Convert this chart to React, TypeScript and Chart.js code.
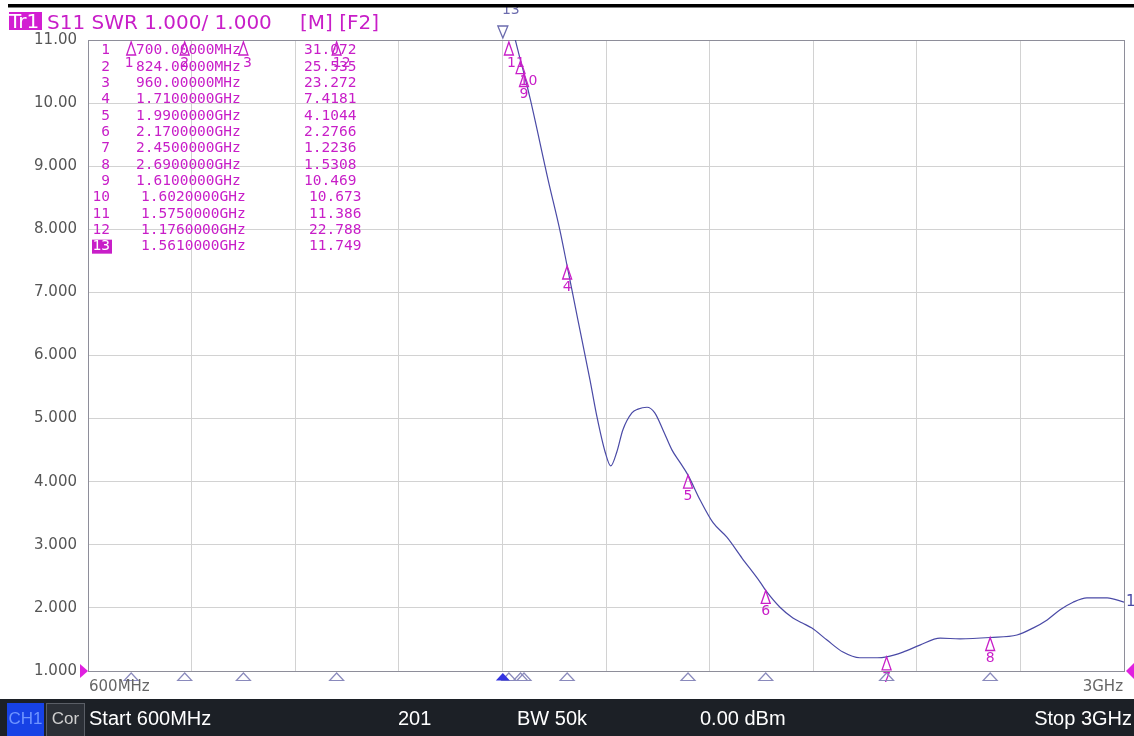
import React, { useEffect, useRef } from "react";
import { Chart, registerables } from "chart.js";

Chart.register(...registerables);

// ---- Trace data (frequency in MHz, SWR) ----
const freqMHz = [
  600, 700, 824, 960, 1176, 1300, 1450, 1530, 1561, 1575, 1590, 1602, 1610, 1625,
  1666, 1693, 1710, 1735, 1763, 1779, 1798, 1811, 1825, 1839, 1860, 1874, 1895,
  1913, 1932, 1953, 1971, 1990, 2018, 2048, 2080, 2115, 2157, 2170, 2203, 2233,
  2255, 2277, 2312, 2349, 2388, 2428, 2450, 2488, 2527, 2574, 2620, 2690, 2752,
  2789, 2822, 2852, 2882, 2914, 2961, 3000,
];
const swrValues = [
  33, 31.072, 25.535, 23.272, 22.788, 21, 16.5, 13.2, 11.749, 11.386, 11.0, 10.673,
  10.469, 10.05, 8.78, 7.99, 7.418, 6.56, 5.61, 5.03, 4.47, 4.25, 4.47, 4.82, 5.09,
  5.15, 5.18, 5.09, 4.82, 4.5, 4.31, 4.104, 3.71, 3.35, 3.12, 2.79, 2.41, 2.277,
  2.01, 1.84, 1.76, 1.68, 1.49, 1.3, 1.21, 1.21, 1.224, 1.3, 1.41, 1.52, 1.51,
  1.531, 1.57, 1.68, 1.81, 1.97, 2.09, 2.16, 2.16, 2.09,
];

// ---- Markers ----
const markerNums = [1, 2, 3, 4, 5, 6, 7, 8, 9, 10, 11, 12, 13];
const markerFreqMHz = [700, 824, 960, 1710, 1990, 2170, 2450, 2690, 1610, 1602, 1575, 1176, 1561];
const markerFreqText = [
  "700.00000MHz", "824.00000MHz", "960.00000MHz", "1.7100000GHz", "1.9900000GHz",
  "2.1700000GHz", "2.4500000GHz", "2.6900000GHz", "1.6100000GHz", "1.6020000GHz",
  "1.5750000GHz", "1.1760000GHz", "1.5610000GHz",
];
const markerValueText = [
  "31.072", "25.535", "23.272", "7.4181", "4.1044", "2.2766", "1.2236", "1.5308",
  "10.469", "10.673", "11.386", "22.788", "11.749",
];
const markerValues = [31.072, 25.535, 23.272, 7.4181, 4.1044, 2.2766, 1.2236, 1.5308, 10.469, 10.673, 11.386, 22.788, 11.749];
const activeMarker = 13;

// ---- Axis ----
const yMin = 1;
const yMax = 11;
const xStartMHz = 600;
const xStopMHz = 3000;
const xStepMHz = 240;

// ---- Text ----
const titleTag = "Tr1";
const titleText = "S11 SWR 1.000/ 1.000";
const titleFlags = "[M] [F2]";
const startLabel = "600MHz";
const stopLabel = "3GHz";
const statusTexts = ["Start 600MHz", "201", "BW 50k", "0.00 dBm", "Stop 3GHz"];

// label offsets for marker numbers (style only)
const labelDx: Record<number, number> = { 1: -2, 3: 4, 10: 8, 11: 7, 12: 5 };

const MAGENTA = "#c81ec8";
const TRACE = "#4a4aa6";

export default function App() {
  const ref = useRef<HTMLCanvasElement | null>(null);

  useEffect(() => {
    const canvas = ref.current;
    if (!canvas) return;

    const decor = {
      id: "vnaDecor",
      beforeDraw(chart: any) {
        const ctx = chart.ctx;
        ctx.save();
        ctx.fillStyle = "#ffffff";
        ctx.fillRect(0, 0, chart.width, chart.height);
        ctx.restore();
      },
      beforeDatasetsDraw(chart: any) {
        const ctx = chart.ctx;
        const a = chart.chartArea;
        ctx.save();
        ctx.strokeStyle = "#8e8e9a";
        ctx.lineWidth = 1;
        ctx.strokeRect(Math.round(a.left) + 0.5, Math.round(a.top) + 0.5, Math.round(a.right - a.left), Math.round(a.bottom - a.top));
        ctx.restore();
      },
      afterDraw(chart: any) {
        const ctx = chart.ctx;
        const a = chart.chartArea;
        const xs = chart.scales.x;
        const ys = chart.scales.y;
        ctx.save();

        // ---- marker table ----
        ctx.font = "14.5px 'DejaVu Sans Mono'";
        ctx.textBaseline = "middle";
        markerNums.forEach((n, i) => {
          const y = 50.7 + 16.33 * i;
          const shift = n >= 10 ? 5 : 0;
          if (n === activeMarker) {
            ctx.fillStyle = MAGENTA;
            ctx.fillRect(92, y - 7, 20, 14);
            ctx.fillStyle = "#ffffff";
          } else {
            ctx.fillStyle = MAGENTA;
          }
          ctx.textAlign = "right";
          ctx.fillText(String(n), 110, y);
          ctx.fillStyle = MAGENTA;
          ctx.textAlign = "left";
          ctx.fillText(markerFreqText[i], 136 + shift, y);
          ctx.fillText(markerValueText[i], 304 + shift, y);
        });

        // ---- markers on trace ----
        ctx.font = "14px 'DejaVu Sans'";
        ctx.textAlign = "center";
        ctx.textBaseline = "middle";
        markerNums.forEach((n, i) => {
          const x = xs.getPixelForValue(markerFreqMHz[i]);
          const v = markerValues[i];
          if (n === activeMarker) {
            ctx.strokeStyle = "#6c6cae";
            ctx.lineWidth = 1.3;
            ctx.beginPath();
            ctx.moveTo(x, a.top - 2);
            ctx.lineTo(x - 5, a.top - 14);
            ctx.lineTo(x + 5, a.top - 14);
            ctx.closePath();
            ctx.stroke();
            ctx.fillStyle = "#6c6cae";
            ctx.fillText(String(n), x + 8, 10);
            return;
          }
          const tipY = v > yMax ? a.top + 2 : ys.getPixelForValue(v);
          ctx.strokeStyle = MAGENTA;
          ctx.lineWidth = 1.3;
          ctx.beginPath();
          ctx.moveTo(x, tipY);
          ctx.lineTo(x - 4.5, tipY + 13);
          ctx.lineTo(x + 4.5, tipY + 13);
          ctx.closePath();
          ctx.stroke();
          ctx.fillStyle = MAGENTA;
          ctx.fillText(String(n), x + (labelDx[n] || 0), tipY + 21);
        });

        // ---- bottom marker position indicators ----
        markerNums.forEach((n, i) => {
          const x = xs.getPixelForValue(markerFreqMHz[i]);
          const y0 = a.bottom + 2;
          ctx.beginPath();
          ctx.moveTo(x, y0);
          ctx.lineTo(x - 7, y0 + 7.5);
          ctx.lineTo(x + 7, y0 + 7.5);
          ctx.closePath();
          if (n === activeMarker) {
            ctx.fillStyle = "#3333e0";
            ctx.fill();
          } else {
            ctx.strokeStyle = "#8a8abc";
            ctx.lineWidth = 1.2;
            ctx.stroke();
          }
        });

        // ---- reference level arrows ----
        ctx.fillStyle = "#e020e0";
        ctx.beginPath();
        ctx.moveTo(a.left - 8, a.bottom - 7);
        ctx.lineTo(a.left, a.bottom);
        ctx.lineTo(a.left - 8, a.bottom + 7);
        ctx.closePath();
        ctx.fill();
        ctx.beginPath();
        ctx.moveTo(1134, a.bottom - 8);
        ctx.lineTo(a.right + 2, a.bottom);
        ctx.lineTo(1134, a.bottom + 8);
        ctx.closePath();
        ctx.fill();

        // ---- trace label ----
        ctx.fillStyle = TRACE;
        ctx.font = "15px 'DejaVu Sans'";
        ctx.textAlign = "left";
        ctx.fillText("1", a.right + 2, ys.getPixelForValue(swrValues[swrValues.length - 1]));

        // ---- start / stop labels ----
        ctx.fillStyle = "#666666";
        ctx.font = "15px 'DejaVu Sans'";
        ctx.textAlign = "left";
        ctx.fillText(startLabel, a.left + 1, 687);
        ctx.textAlign = "right";
        ctx.fillText(stopLabel, a.right - 1, 687);

        // ---- top black line ----
        ctx.fillStyle = "#000000";
        ctx.fillRect(8, 4, 1126, 3.5);

        // ---- title ----
        ctx.font = "20px 'DejaVu Sans'";
        ctx.textBaseline = "alphabetic";
        ctx.textAlign = "left";
        ctx.fillStyle = "#d21ed2";
        ctx.fillRect(9, 12, 33, 18);
        ctx.fillStyle = "#ffffff";
        ctx.fillText(titleTag, 9, 28);
        ctx.fillStyle = MAGENTA;
        ctx.fillText(titleText, 47, 29);
        ctx.fillText(titleFlags, 300, 29);

        // ---- status bar ----
        ctx.fillStyle = "#1c2026";
        ctx.fillRect(0, 699, 1134, 37);
        ctx.fillStyle = "#1742e6";
        ctx.fillRect(7, 703, 37, 33);
        ctx.fillStyle = "#2b2f36";
        ctx.fillRect(46, 703, 39, 33);
        ctx.strokeStyle = "#5a5e66";
        ctx.lineWidth = 1;
        ctx.strokeRect(46.5, 703.5, 38, 33);
        ctx.textBaseline = "middle";
        ctx.font = "17px 'Liberation Sans'";
        ctx.fillStyle = "#6f95ff";
        ctx.textAlign = "center";
        ctx.fillText("CH1", 25.5, 719);
        ctx.fillStyle = "#cfcfcf";
        ctx.fillText("Cor", 65.5, 719);
        ctx.font = "20px 'Liberation Sans'";
        ctx.fillStyle = "#ffffff";
        ctx.textAlign = "left";
        ctx.fillText(statusTexts[0], 89, 719);
        ctx.fillText(statusTexts[1], 398, 719);
        ctx.fillText(statusTexts[2], 517, 719);
        ctx.fillText(statusTexts[3], 700, 719);
        ctx.textAlign = "right";
        ctx.fillText(statusTexts[4], 1132, 719);

        ctx.restore();
      },
    };

    const chart = new Chart(canvas, {
      type: "line",
      data: {
        datasets: [
          {
            data: freqMHz.map((f, i) => ({ x: f, y: swrValues[i] })),
            borderColor: TRACE,
            borderWidth: 1.2,
            pointRadius: 0,
            cubicInterpolationMode: "monotone",
            fill: false,
          },
        ],
      },
      options: {
        animation: false,
        responsive: false,
        devicePixelRatio: 1,
        layout: { padding: { top: 40, right: 10, left: 0, bottom: 0 } },
        plugins: { legend: { display: false }, tooltip: { enabled: false }, title: { display: false } },
        scales: {
          x: {
            type: "linear",
            min: xStartMHz,
            max: xStopMHz,
            ticks: { display: false, stepSize: xStepMHz },
            grid: { color: "#d2d2d2", drawTicks: false },
            border: { display: false },
            afterFit: (s: any) => {
              s.height = 65;
            },
          },
          y: {
            type: "linear",
            min: yMin,
            max: yMax,
            ticks: {
              stepSize: 1,
              padding: 11,
              color: "#555555",
              font: { family: "'DejaVu Sans'", size: 15 },
              callback: (v: any) => (Number(v) >= 10 ? Number(v).toFixed(2) : Number(v).toFixed(3)),
            },
            grid: { color: "#d2d2d2", drawTicks: false },
            border: { display: false },
            afterFit: (s: any) => {
              s.width = 88;
            },
          },
        },
      },
      plugins: [decor],
    });

    return () => chart.destroy();
  }, []);

  return (
    <div style={{ position: "absolute", left: 0, top: 0, width: 1134, height: 736 }}>
      <canvas ref={ref} width={1134} height={736} style={{ width: 1134, height: 736, display: "block" }} />
    </div>
  );
}
